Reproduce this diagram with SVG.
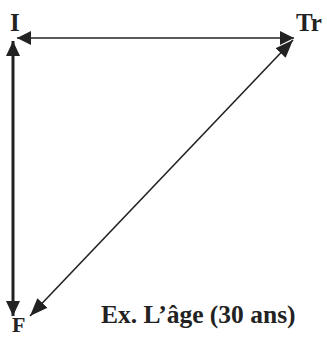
<svg xmlns="http://www.w3.org/2000/svg" width="327" height="337" viewBox="0 0 327 337">
<style>
.lbl{font-family:"Liberation Serif","Times New Roman",serif;font-weight:bold;fill:#222;}
.edge{stroke:#222;fill:none;}
</style>
<defs>
<marker id="ahH" viewBox="0 0 14 14" refX="14" refY="7" markerWidth="14" markerHeight="14" markerUnits="userSpaceOnUse" orient="auto-start-reverse">
<path d="M0,0 L14,7 L0,14 Z" fill="#222"/>
</marker>
<marker id="ahV" viewBox="0 0 15 14" refX="15" refY="7" markerWidth="15" markerHeight="14" markerUnits="userSpaceOnUse" orient="auto-start-reverse">
<path d="M0,0 L15,7 L0,14 Z" fill="#222"/>
</marker>
<marker id="ahD" viewBox="0 0 18 14" refX="18" refY="7" markerWidth="18" markerHeight="14" markerUnits="userSpaceOnUse" orient="auto-start-reverse">
<path d="M0,0 L18,7 L0,14 Z" fill="#222"/>
</marker>
</defs>
<rect width="327" height="337" fill="#fff"/>
<g id="connectors">
<path class="edge" stroke-width="1.6" d="M17,38 L294,38" marker-start="url(#ahH)" marker-end="url(#ahH)"/>
<path class="edge" stroke-width="3" d="M13,41 L13,316" marker-start="url(#ahV)" marker-end="url(#ahV)"/>
<path class="edge" stroke-width="1.6" d="M30,316 L293,40" marker-start="url(#ahD)" marker-end="url(#ahD)"/>
</g>
<g id="node-I"><text class="lbl" x="10" y="31" font-size="25">I</text></g>
<g id="node-Tr"><text class="lbl" x="296" y="31" font-size="25">Tr</text></g>
<g id="node-F"><text class="lbl" x="12" y="332" font-size="22">F</text></g>
<g id="example"><text class="lbl" x="101" y="323" font-size="25.5">Ex. L’âge (30 ans)</text></g>
</svg>
